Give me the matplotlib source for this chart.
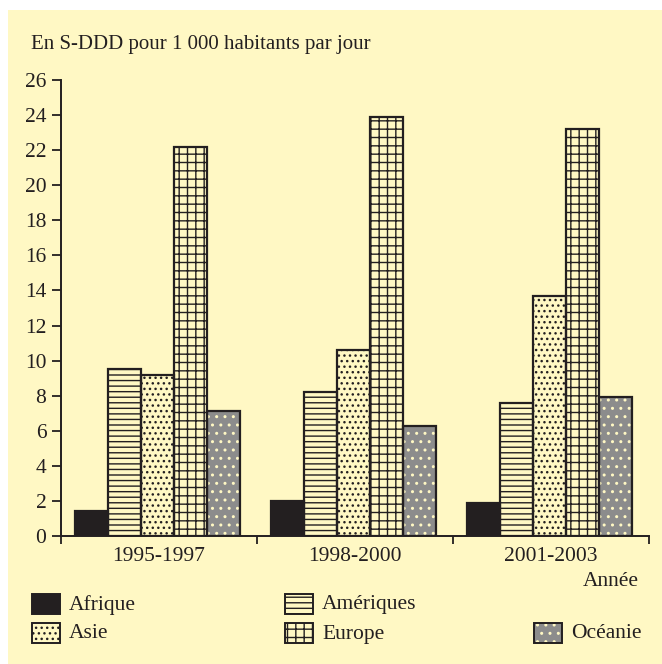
import matplotlib.pyplot as plt
from matplotlib.patches import Rectangle
import numpy as np

plt.rcParams['font.family'] = ['Liberation Serif', 'DejaVu Serif']
plt.rcParams['hatch.linewidth'] = 1.0

# Data
periods = ['1995-1997', '1998-2000', '2001-2003']
regions = ['Afrique', 'Amériques', 'Asie', 'Europe', 'Océanie']
afrique = [1.4, 2.0, 1.9]
ameriques = [9.5, 8.2, 7.6]
asie = [9.2, 10.6, 13.7]
europe = [22.2, 23.9, 23.2]
oceanie = [7.1, 6.3, 7.9]
values = [afrique, ameriques, asie, europe, oceanie]

bg = '#fff8c4'
dark = '#231f20'
grey = '#8c8c8c'
# face, hatch, hatch colour per region
styles = [
    (dark, None, dark),
    (bg, '---', dark),
    (bg, '...', dark),
    (bg, '++', dark),
    (grey, '..', bg),
]

fig = plt.figure(figsize=(6.62, 6.64), dpi=100)
fig.patches.append(Rectangle((8 / 662, 0), 1, 1 - 10 / 664, transform=fig.transFigure,
                             facecolor=bg, edgecolor='none', zorder=-10))

ax = fig.add_axes([61 / 662, 128 / 664, 588 / 662, 456 / 664])
ax.set_facecolor('none')

x = np.arange(len(periods))
w = 0.168
for i, (vals, (face, hatch, hcol)) in enumerate(zip(values, styles)):
    pos = x + (i - 2) * w - 0.008
    ax.bar(pos, vals, w, color=face, hatch=hatch, edgecolor=hcol, linewidth=0, zorder=2)
    ax.bar(pos, vals, w, fill=False, edgecolor=dark, linewidth=1.6, zorder=3)

ax.set_xlim(-0.5, 2.5)
ax.set_ylim(0, 26)
ax.set_yticks(np.arange(0, 27, 2))
ax.set_xticks(x)
ax.set_xticklabels(periods)
ax.set_xticks([-0.5, 0.5, 1.5, 2.5], minor=True)
ax.tick_params(axis='x', which='major', length=0, pad=8, labelsize=15.5, labelcolor=dark)
ax.tick_params(axis='x', which='minor', length=5.5, width=1.3, direction='out', color=dark)
ax.tick_params(axis='y', length=6.5, width=1.3, direction='out', color=dark,
               labelsize=15.5, labelcolor=dark, pad=4)
for s in ['top', 'right']:
    ax.spines[s].set_visible(False)
for s in ['left', 'bottom']:
    ax.spines[s].set_linewidth(1.4)
    ax.spines[s].set_color(dark)

fig.text(31 / 662, 1 - 45 / 664, 'En S-DDD pour 1 000 habitants par jour', fontsize=15,
         va='center', ha='left', color=dark)
fig.text(639 / 662, 1 - 581 / 664, 'Année', fontsize=15.5, va='center', ha='right', color=dark)

# Legend
leg_pos = [(32, 604), (285, 604), (32, 633), (285, 633), (534, 633)]
for (px, py), name, (face, hatch, hcol) in zip(leg_pos, regions, styles):
    x0 = px / 662
    y0 = 1 - (py + 10) / 664
    fig.patches.append(Rectangle((x0, y0), 28 / 662, 20 / 664, transform=fig.transFigure,
                                 facecolor=face, hatch=hatch, edgecolor=hcol, linewidth=0))
    fig.patches.append(Rectangle((x0, y0), 28 / 662, 20 / 664, transform=fig.transFigure,
                                 fill=False, edgecolor=dark, linewidth=1.4))
    fig.text((px + 37) / 662, 1 - (py + 1) / 664, name, fontsize=15.5, va='center',
             ha='left', color=dark)

fig.savefig('out.png', dpi=100)
